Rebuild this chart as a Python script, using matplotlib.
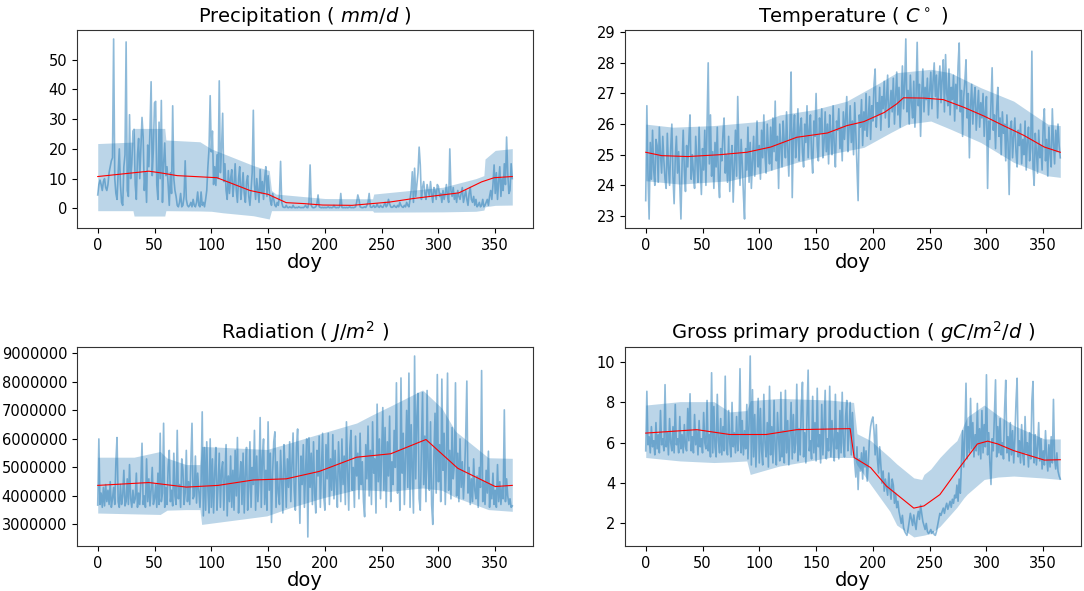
import numpy as np
import matplotlib
matplotlib.use("Agg")
import matplotlib.pyplot as plt

# ---------------- data ----------------
precip = [
 4.5, 8, 9.5, 8, 6, 9, 10, 7, 6, 8,
 12, 14, 16, 17, 57, 10, 5, 3, 12, 20,
 8, 2, 1, 14, 18, 56, 6, 4, 31.5, 10,
 15, 26, 26.6, 8, 3, 18, 23.5, 10, 20, 30.6,
 24, 6, 12, 2, 21.3, 14, 26, 42.6, 11, 20,
 35.5, 36, 8, 3, 29, 10, 36.3, 2, 15, 22,
 11, 14, 8, 1, 12, 5, 34.5, 10, 6, 4,
 1, 0.5, 2, 5, 0.5, 1, 4, 16, 3, 1,
 0.5, 1, 2, 0.5, 3, 1, 0.5, 2, 5.5, 1,
 0.5, 5.5, 1, 2, 0.5, 3, 6, 14, 20, 37.9,
 19, 26, 8, 14, 7.7, 18, 10, 42.9, 12, 20,
 32, 9, 15, 6, 3, 12.7, 5, 10, 13, 4,
 8, 15, 6, 2, 10, 14, 3, 7, 12, 5,
 2, 9, 11, 4, 1, 6, 12, 33, 8, 3,
 10, 6, 2, 13, 5, 9, 3, 10, 14, 4,
 11, 6, 2.5, 1, 5, 3, 1, 0.5, 2, 1,
 4, 15.8, 2, 0.5, 0.3, 0.3, 1, 0.3, 0.2, 0.5,
 0.3, 0.2, 1, 0.3, 0.2, 0.3, 0.2, 0.5, 0.3, 0.2,
 0.3, 0.2, 0.5, 1, 0.3, 0.2, 2, 14.6, 1, 0.3,
 0.2, 0.3, 0.5, 1.5, 4.5, 0.5, 0.3, 0.2, 0.3, 0.2,
 0.3, 0.2, 0.3, 0.5, 0.2, 0.3, 0.2, 0.3, 1, 0.3,
 0.2, 0.3, 0.2, 0.5, 5, 0.3, 0.2, 0.3, 0.2, 0.3,
 0.2, 0.3, 0.5, 0.2, 0.3, 0.2, 0.3, 0.5, 2, 4.5,
 3, 0.5, 0.3, 0.2, 0.3, 0.5, 0.3, 1, 2, 5,
 0.5, 0.3, 0.5, 1, 0.3, 0.5, 1.5, 0.5, 0.3, 1,
 0.5, 0.3, 1, 2, 0.5, 1, 3, 1.5, 0.5, 0.3,
 0.5, 1, 0.5, 0.3, 1, 0.5, 2, 1, 0.5, 0.3,
 1, 0.5, 2, 1, 0.5, 3, 6, 12.3, 2, 13.5,
 4, 8, 12, 20.6, 14.6, 3, 7, 9, 5, 3,
 8, 6, 4, 9, 5, 2, 7, 6, 3, 8,
 7.3, 4, 5, 2, 6, 3, 5, 8, 4, 2,
 20, 6, 4, 7, 3, 5, 2, 6, 4, 3,
 5, 7, 2, 4, 6, 3, 1, 5, 7, 3,
 2, 4, 1, 3, 0.5, 1, 2, 0.5, 1, 3,
 0.5, 1, 2, 3, 1, 4, 6, 3, 8, 14.6,
 5, 12, 3, 9, 14, 4, 10, 6, 15, 8,
 24, 12, 5, 6, 15, 10]

precip_mean_days = [0, 45, 56, 70, 105, 134, 150, 166, 181, 198, 224, 242, 257, 278, 318, 338, 349, 365]
precip_mean = [10.7, 12.5, 11.9, 11.0, 10.3, 6.0, 4.7, 1.9, 1.6, 1.1, 1.0, 1.6, 2.1, 3.3, 5.2, 8.9, 10.3, 10.7]
precip_band_days = [0, 31, 32, 59, 60, 90, 100, 110, 137, 151, 153, 157, 200, 242, 243, 304, 333, 340, 341, 350, 365]
precip_hi = [21.8, 22.3, 26.9, 26.9, 23.0, 22.4, 20.0, 18.5, 14.4, 12.7, 6.0, 4.8, 3.3, 3.2, 4.8, 7.1, 10.0, 11.0, 16.6, 19.5, 20.1]
precip_lo = [-0.8, -0.8, -2.6, -2.6, -0.8, -0.9, -1.0, -1.5, -2.5, -3.6, -0.8, -0.8, -0.8, -0.8, -1.3, -1.2, -1.0, -0.6, 0.5, 1.0, 1.1]

temp = [
 23.5, 26.6, 24.3, 22.9, 25.4, 24.2, 25.8, 24.5, 24.0, 25.5,
 25.3, 24.1, 25.9, 25.0, 24.4, 25.6, 24.8, 24.2, 23.9, 25.7,
 24.6, 24.0, 25.2, 26.0, 24.3, 23.4, 24.9, 25.6, 24.4, 25.1,
 24.0, 22.9, 24.7, 25.8, 24.5, 23.8, 25.3, 24.6, 25.5, 26.3,
 24.2, 25.0, 24.4, 23.9, 25.6, 24.8, 24.1, 25.9, 24.6, 23.7,
 25.2, 24.5, 25.8, 24.0, 26.0, 28.0, 24.7, 26.3, 24.3, 25.1,
 23.9, 25.4, 24.6, 25.9, 24.2, 23.6, 25.2, 24.8, 25.7, 26.2,
 24.4, 25.0, 24.1, 25.6, 23.8, 24.9, 25.3, 23.45, 24.6, 25.8,
 24.3, 26.9, 25.1, 24.0, 25.5, 24.7, 23.7, 22.9, 25.2, 24.5,
 25.9, 24.1, 25.4, 23.9, 24.8, 25.6, 24.3, 25.1, 26.1, 24.6,
 25.3, 24.2, 25.8, 24.9, 26.3, 25.0, 24.4, 26.0, 25.2, 24.7,
 25.9, 24.5, 26.2, 25.1, 26.75, 24.8, 25.6, 23.9, 26.0, 25.3,
 24.6, 26.1, 25.4, 24.9, 26.4, 25.2, 24.3, 25.8, 27.7, 23.6,
 25.7, 26.3, 24.9, 25.5, 26.5, 24.8, 25.9, 26.2, 25.1, 24.6,
 26.0, 25.4, 26.6, 24.9, 25.8, 26.3, 25.0, 24.4, 26.1, 25.6,
 27.0, 25.3, 24.8, 26.2, 25.7, 26.5, 24.9, 25.4, 26.4, 25.1,
 26.0, 24.7, 26.3, 25.6, 25.0, 26.6, 25.3, 24.6, 26.1, 25.8,
 26.5, 25.2, 25.9, 24.8, 26.4, 25.5, 26.2, 26.9, 25.1, 25.8,
 26.6, 25.4, 26.1, 25.0, 26.7, 25.7, 24.6, 23.5, 26.3, 25.9,
 26.8, 25.3, 26.4, 25.8, 27.0, 25.6, 26.2, 26.9, 25.5, 26.6,
 26.1, 27.3, 27.8, 25.9, 26.7, 26.3, 27.2, 25.8, 26.9, 26.5,
 27.4, 26.2, 26.8, 27.6, 25.9, 26.6, 27.1, 26.4, 27.5, 26.0,
 26.9, 27.7, 26.3, 27.2, 25.9, 26.8, 27.9, 26.5, 27.3, 28.78,
 26.4, 27.1, 26.0, 27.6, 26.7, 26.2, 27.4, 25.9, 26.9, 28.67,
 26.6, 27.3, 25.6, 27.0, 27.8, 26.4, 27.2, 26.8, 27.5, 26.3,
 27.1, 27.7, 26.5, 27.4, 28.0, 26.9, 27.6, 26.2, 27.3, 27.9,
 26.7, 27.5, 28.1, 26.4, 28.27, 27.0, 26.6, 27.8, 26.3, 27.2,
 26.8, 27.6, 26.1, 27.3, 26.5, 27.9, 28.65, 26.4, 27.1, 25.6,
 26.9, 27.4, 28.1, 26.2, 27.0, 24.9, 26.6, 27.3, 26.0, 26.8,
 27.2, 25.8, 26.5, 27.1, 25.9, 26.7, 26.2, 27.0, 25.6, 26.4,
 26.9, 23.9, 26.1, 25.5, 26.7, 27.84, 25.8, 26.3, 25.2, 26.5,
 27.2, 25.6, 26.2, 25.0, 26.4, 25.7, 26.0, 24.8, 26.3, 25.4,
 23.7, 25.9, 26.1, 24.9, 25.6, 26.2, 25.1, 24.6, 25.8, 25.3,
 26.0, 24.7, 25.5, 25.0, 26.1, 24.5, 25.4, 25.9, 24.8, 25.2,
 28.38, 24.6, 24.0, 25.7, 25.1, 24.4, 25.8, 24.9, 25.3, 24.5,
 26.0, 26.5, 24.8, 25.5, 24.3, 25.9, 25.0, 24.6, 26.5, 25.4,
 24.7, 25.8, 25.1, 26.0, 25.3, 24.9]

temp_mean_days = [0, 14, 37, 65, 89, 110, 133, 160, 177, 192, 210, 221, 227, 245, 262, 280, 298, 315, 333, 351, 365]
temp_mean = [25.08, 24.97, 24.94, 25.0, 25.08, 25.25, 25.57, 25.71, 25.95, 26.08, 26.38, 26.66, 26.86, 26.85, 26.8, 26.55, 26.26, 25.95, 25.63, 25.25, 25.08]
temp_band_days = [0, 24, 59, 104, 118, 148, 177, 206, 221, 251, 268, 295, 324, 339, 354, 365]
temp_hi = [26.0, 25.9, 25.95, 26.1, 26.3, 26.47, 26.75, 27.35, 27.68, 27.79, 27.68, 27.19, 26.75, 26.37, 26.0, 25.95]
temp_lo_days = [0, 30, 74, 104, 133, 162, 192, 216, 230, 251, 268, 295, 324, 354, 365]
temp_lo = [24.15, 24.04, 24.15, 24.42, 24.75, 25.02, 25.24, 25.73, 26.0, 26.1, 25.84, 25.4, 24.75, 24.31, 24.26]

rad_m = [
 3.68, 6.0, 3.7, 4.1, 3.6, 4.3, 3.65, 4.4, 3.8, 4.2,
 3.7, 4.5, 3.6, 3.9, 4.3, 3.7, 5.2, 6.05, 3.8, 3.6,
 4.4, 3.7, 4.0, 4.9, 3.65, 3.8, 4.6, 3.7, 5.1, 3.9,
 3.6, 4.2, 3.75, 3.9, 4.8, 3.6, 4.1, 3.7, 4.5, 5.85,
 3.7, 4.0, 3.6, 5.3, 3.8, 4.6, 3.65, 4.2, 5.0, 3.7,
 3.9, 4.4, 3.6, 4.8, 3.7, 6.2, 3.8, 4.1, 6.55, 3.6,
 4.3, 3.7, 5.0, 5.6, 3.8, 4.2, 3.65, 5.5, 4.0, 3.7,
 6.3, 3.9, 4.4, 3.6, 5.3, 4.9, 3.7, 4.1, 5.6, 3.8,
 4.5, 3.7, 5.2, 6.55, 3.9, 4.0, 5.4, 3.75, 4.8, 4.2,
 3.6, 4.5, 6.95, 3.3, 5.7, 3.5, 5.9, 4.2, 3.4, 6.0,
 3.6, 5.3, 3.4, 4.8, 5.7, 3.5, 4.4, 5.5, 3.6, 4.9,
 5.2, 3.5, 4.6, 5.8, 3.3, 4.7, 3.8, 5.4, 3.6, 4.9,
 3.5, 5.6, 4.0, 6.05, 3.4, 4.6, 5.2, 3.7, 5.5, 3.4,
 4.8, 5.7, 3.5, 4.3, 5.9, 3.6, 5.0, 4.4, 6.3, 3.5,
 5.4, 3.8, 4.6, 6.75, 3.6, 5.3, 6.0, 3.7, 4.9, 3.5,
 6.6, 4.2, 5.5, 3.07, 4.8, 5.9, 6.25, 3.6, 5.2, 4.1,
 3.7, 5.6, 4.5, 3.4, 5.8, 4.9, 3.6, 5.3, 4.3, 5.9,
 3.8, 5.1, 6.21, 4.2, 3.5, 5.7, 6.35, 4.6, 3.04, 5.4,
 4.4, 5.8, 3.6, 4.9, 6.0, 2.56, 6.04, 4.3, 5.5, 3.7,
 5.9, 4.1, 3.4, 5.6, 4.7, 6.1, 3.6, 5.0, 6.2, 4.0,
 3.5, 5.8, 4.6, 6.2, 3.7, 5.3, 4.2, 6.15, 3.9, 5.6,
 4.5, 3.6, 5.9, 4.8, 3.8, 6.0, 4.4, 5.4, 3.7, 6.6,
 4.9, 3.5, 5.7, 6.3, 4.2, 5.0, 3.6, 6.1, 4.7, 5.5,
 3.9, 6.2, 4.4, 5.2, 3.8, 3.27, 5.8, 4.6, 6.45, 4.0,
 5.6, 3.7, 6.6, 4.8, 5.3, 3.4, 7.22, 4.5, 6.0, 3.9,
 5.5, 7.1, 4.2, 6.4, 3.6, 5.9, 4.7, 6.8, 3.8, 5.2,
 4.4, 6.3, 5.0, 7.97, 4.1, 5.6, 3.5, 8.14, 4.8, 6.2,
 3.7, 5.4, 7.0, 4.3, 8.31, 3.6, 6.5, 4.9, 3.4, 8.91,
 4.6, 6.8, 7.6, 3.9, 3.5, 5.7, 7.63, 4.4, 6.1, 3.8,
 7.7, 5.0, 4.2, 6.6, 3.7, 3.0, 5.4, 6.9, 4.1, 8.26,
 4.5, 5.8, 3.8, 8.1, 4.9, 6.2, 3.7, 5.3, 8.31, 4.2,
 5.6, 3.9, 6.4, 4.6, 5.1, 7.97, 4.0, 5.5, 3.8, 6.0,
 4.3, 5.2, 3.9, 4.8, 6.1, 8.03, 4.1, 5.0, 3.7, 4.6,
 3.8, 5.3, 4.2, 3.9, 4.7, 3.6, 5.0, 4.3, 8.4, 3.8,
 4.5, 3.7, 4.9, 4.1, 5.57, 3.6, 4.4, 3.9, 4.8, 3.7,
 4.2, 3.6, 5.1, 3.8, 4.5, 3.7, 4.3, 3.9, 7.02, 3.8,
 4.6, 4.0, 3.7, 3.9, 3.6, 3.65]

rad_mean_days = [0, 45, 78, 106, 137, 166, 195, 228, 258, 289, 317, 350, 365]
rad_mean_m = [4.37, 4.47, 4.31, 4.37, 4.56, 4.60, 4.86, 5.36, 5.48, 5.98, 4.97, 4.33, 4.37]
rad_band_days = [0, 32, 55, 61, 78, 90, 91.5, 149, 169, 198, 228, 242, 257, 286, 303, 315, 344, 365]
rad_hi_m = [5.36, 5.36, 5.56, 5.33, 5.10, 5.10, 5.74, 5.63, 5.86, 6.21, 6.56, 6.85, 7.14, 7.72, 7.08, 6.27, 5.34, 5.32]
rad_lo_m = [3.40, 3.37, 3.35, 3.50, 3.52, 3.52, 3.00, 3.30, 3.58, 3.93, 4.22, 4.20, 4.16, 4.28, 4.20, 3.95, 3.52, 3.46]

gpp = [
 5.6, 8.55, 5.9, 6.3, 5.5, 6.8, 5.8, 6.1, 5.4, 7.0,
 5.7, 6.4, 5.5, 7.6, 5.9, 6.2, 5.6, 8.88, 5.8, 6.5,
 5.4, 7.2, 6.0, 5.6, 6.8, 5.5, 7.9, 5.9, 6.2, 5.5,
 7.3, 5.7, 6.4, 5.5, 6.9, 5.8, 5.6, 7.7, 6.1, 8.43,
 5.6, 6.3, 5.5, 7.4, 5.9, 6.6, 5.4, 7.1, 5.8, 6.2,
 5.5, 7.5, 6.0, 5.7, 8.1, 5.6, 6.4, 5.3, 9.47, 5.5,
 7.8, 5.8, 5.3, 8.4, 6.1, 5.5, 7.2, 5.4, 6.8, 5.6,
 9.3, 5.7, 5.4, 7.6, 6.0, 5.3, 8.0, 5.8, 6.5, 5.5,
 7.3, 5.6, 6.2, 9.67, 5.5, 7.1, 5.4, 6.6, 5.7, 7.9,
 5.2, 6.9, 10.3, 4.9, 8.63, 5.3, 7.4, 4.8, 6.5, 8.2,
 5.0, 7.7, 5.6, 4.9, 8.4, 6.0, 5.3, 7.0, 4.8, 8.8,
 5.4, 6.8, 5.0, 8.1, 5.7, 4.9, 7.5, 6.2, 5.1, 8.5,
 5.3, 6.6, 5.0, 8.6, 5.5, 7.1, 4.9, 6.3, 8.0, 5.2,
 7.4, 5.5, 6.0, 8.9, 5.1, 6.7, 5.4, 7.8, 9.0, 5.3,
 6.5, 5.0, 7.2, 9.6, 5.6, 6.1, 5.2, 8.3, 5.5, 7.0,
 5.1, 8.7, 5.8, 6.4, 5.0, 7.9, 5.4, 6.8, 8.6, 5.2,
 6.2, 5.6, 8.8, 5.3, 7.1, 6.0, 5.1, 8.4, 5.7, 6.5,
 5.2, 7.6, 5.5, 8.5, 6.0, 5.3, 7.3, 8.1, 5.6, 6.4,
 8.0, 5.4, 7.5, 6.2, 5.0, 4.3, 5.8, 3.68, 5.2, 4.6,
 5.5, 4.2, 5.78, 4.8, 5.6, 4.1, 5.0, 6.2, 6.8, 7.1,
 7.28, 6.6, 5.4, 6.9, 5.2, 4.5, 5.8, 4.9, 4.0, 4.6,
 3.6, 4.2, 3.8, 3.4, 4.5, 3.7, 3.2, 4.2, 3.9, 3.0,
 3.5, 2.78, 3.1, 2.6, 2.3, 2.0, 2.4, 1.8, 1.6, 1.5,
 1.41, 1.7, 2.1, 2.5, 2.2, 1.9, 2.42, 2.0, 1.7, 2.3,
 2.6, 2.2, 2.9, 2.5, 2.1, 1.9, 1.7, 2.0, 1.6, 1.5,
 1.58, 1.7, 1.5, 1.6, 1.45, 1.41, 1.6, 1.9, 2.2, 2.5,
 2.4, 2.6, 2.76, 2.5, 2.8, 3.0, 2.7, 2.9, 3.1, 2.8,
 3.2, 3.0, 3.4, 3.26, 3.9, 3.1, 4.2, 3.5, 5.0, 6.6,
 4.8, 6.3, 8.95, 5.2, 6.8, 5.5, 8.2, 5.7, 7.0, 5.3,
 6.4, 5.6, 7.95, 5.4, 6.7, 5.2, 7.6, 5.5, 6.9, 5.8,
 9.37, 5.4, 6.5, 5.0, 3.93, 6.2, 5.6, 7.4, 9.12, 5.3,
 6.8, 5.5, 7.2, 5.4, 6.0, 5.2, 7.7, 9.1, 5.5, 6.3,
 5.1, 7.0, 5.4, 6.6, 5.0, 6.2, 8.0, 9.2, 5.3, 6.1,
 5.0, 6.9, 5.4, 4.9, 7.3, 5.5, 6.0, 4.8, 6.5, 5.2,
 8.1, 9.04, 5.0, 6.4, 4.9, 5.8, 7.0, 5.1, 6.2, 4.7,
 5.6, 4.9, 6.6, 5.3, 4.6, 5.9, 4.8, 6.3, 5.0, 8.15,
 5.2, 4.7, 5.5, 4.6, 4.35, 4.2]

gpp_mean_days = [0, 45, 74, 106, 133, 180, 183.5, 198, 212, 236, 245, 259, 274, 292, 301, 310, 324, 351, 365]
gpp_mean = [6.48, 6.65, 6.41, 6.41, 6.65, 6.70, 5.27, 4.77, 3.85, 2.76, 2.87, 3.43, 4.60, 5.94, 6.08, 5.94, 5.61, 5.14, 5.16]
gpp_band_days = [0, 30, 60, 74, 89, 92, 118, 162, 183, 186, 198, 215, 221, 236, 243, 245, 251, 259, 268, 274, 280, 283, 298, 310, 324, 351, 365]
gpp_hi = [7.87, 8.04, 8.04, 7.53, 7.6, 8.09, 8.2, 8.12, 8.0, 6.45, 6.11, 5.27, 4.95, 4.26, 4.18, 4.43, 4.7, 5.27, 5.8, 6.11, 6.9, 7.28, 7.87, 7.37, 6.86, 6.19, 6.19]
gpp_lo = [5.27, 5.10, 5.02, 5.05, 5.10, 4.43, 4.85, 5.27, 5.27, 4.9, 3.93, 2.6, 1.92, 1.33, 1.4, 1.42, 1.5, 1.85, 2.42, 2.8, 3.26, 3.45, 4.18, 4.3, 4.35, 4.25, 4.18]

doy = np.arange(len(precip))

titles = ["Precipitation ( $mm/d$ )", "Temperature ( $C^\\circ$ )",
          "Radiation ( $J/m^2$ )", "Gross primary production ( $gC/m^2/d$ )"]

# ---------------- figure ----------------
fig = plt.figure(figsize=(10.84, 5.91), dpi=100)
W, H = 1084, 591
rects = [(77, 30, 533, 228), (625, 30, 1081, 228), (77, 347, 533, 546), (625, 347, 1081, 546)]
axes = [fig.add_axes([l / W, 1 - b / H, (r - l) / W, (b - t) / H]) for (l, t, r, b) in rects]

panels = [
    (precip, precip_mean_days, precip_mean, precip_band_days, precip_lo, precip_band_days, precip_hi, 1.0),
    (temp, temp_mean_days, temp_mean, temp_lo_days, temp_lo, temp_band_days, temp_hi, 1.0),
    (rad_m, rad_mean_days, rad_mean_m, rad_band_days, rad_lo_m, rad_band_days, rad_hi_m, 1e6),
    (gpp, gpp_mean_days, gpp_mean, gpp_band_days, gpp_lo, gpp_band_days, gpp_hi, 1.0),
]

for ax, title, (ser, md, mv, ld, lv, hd, hv, sc) in zip(axes, titles, panels):
    bd = sorted(set(ld) | set(hd))
    lo = np.interp(bd, ld, lv) * sc
    hi = np.interp(bd, hd, hv) * sc
    ax.fill_between(bd, lo, hi, color="C0", alpha=0.3, linewidth=0)
    ax.plot(doy, np.asarray(ser) * sc, color="C0", alpha=0.5, linewidth=1.2)
    ax.plot(md, np.asarray(mv) * sc, color="red", linewidth=0.8)
    ax.set_title(title, fontsize=14)
    ax.set_xlabel("doy", fontsize=14, labelpad=0)
    ax.set_xticks([0, 50, 100, 150, 200, 250, 300, 350])
    ax.tick_params(labelsize=10.5)
    for s in ax.spines.values():
        s.set_color("#333333")

axes[0].set_yticks([0, 10, 20, 30, 40, 50])
axes[1].set_yticks([23, 24, 25, 26, 27, 28, 29])
axes[2].ticklabel_format(axis="y", style="plain", useOffset=False)
axes[2].set_yticks([3e6, 4e6, 5e6, 6e6, 7e6, 8e6, 9e6])
axes[3].set_yticks([2, 4, 6, 8, 10])

fig.savefig("out.png", dpi=100)
